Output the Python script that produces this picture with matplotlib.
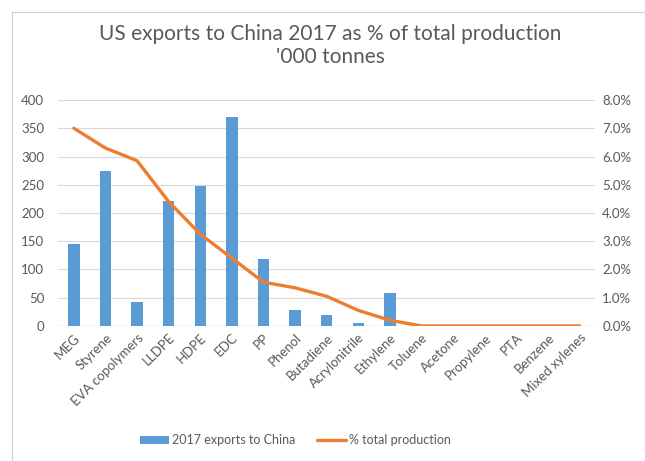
import matplotlib.pyplot as plt
from matplotlib.lines import Line2D
from matplotlib.ticker import FuncFormatter

# data
products = ["MEG", "Styrene", "EVA copolymers", "LLDPE", "HDPE", "EDC", "PP",
            "Phenol", "Butadiene", "Acrylonitrile", "Ethylene", "Toluene",
            "Acetone", "Propylene", "PTA", "Benzene", "Mixed xylenes"]
exports_kt = [145, 275, 42, 221, 247, 370, 118, 29, 20, 6, 58, 0, 0, 0, 0, 0, 0]
pct_production = [7.0, 6.3, 5.85, 4.4, 3.25, 2.4, 1.55, 1.35, 1.05, 0.55, 0.2,
                  0.0, 0.0, 0.0, 0.0, 0.0, 0.0]

BAR_COLOR = "#5B9BD5"
LINE_COLOR = "#ED7D31"
TEXT_COLOR = "#595959"
GRID_COLOR = "#D9D9D9"

plt.rcParams['font.family'] = ['Lato', 'DejaVu Sans']

fig = plt.figure(figsize=(6.45, 4.61), dpi=100)
ax = fig.add_axes([0.09, 0.293, 0.833, 0.49])
ax2 = ax.twinx()

x = list(range(len(products)))
bars = ax.bar(x, exports_kt, width=0.36, color=BAR_COLOR, zorder=2,
              label="2017 exports to China")
line, = ax2.plot(x, pct_production, color=LINE_COLOR, linewidth=2.4,
                 solid_joinstyle="round", solid_capstyle="round",
                 label="% total production")

ax.set_xlim(-0.5, len(products) - 0.5)
ax.set_ylim(0, 400)
ax.set_yticks(range(0, 401, 50))
ax2.set_ylim(0, 8)
ax2.set_yticks(range(0, 9))
ax2.yaxis.set_major_formatter(FuncFormatter(lambda v, _: f"{v:.1f}%"))

ax.grid(axis="y", color=GRID_COLOR, linewidth=0.8, zorder=0)
ax.set_axisbelow(True)

for a in (ax, ax2):
    for side in ("top", "left", "right", "bottom"):
        a.spines[side].set_visible(False)
    a.tick_params(axis="y", length=0, labelsize=9.5, labelcolor=TEXT_COLOR)
ax.axhline(0, color=GRID_COLOR, linewidth=1.0, zorder=1)
ax.tick_params(axis="y", pad=10)
ax2.tick_params(axis="y", pad=5)

ax.set_xticks(x)
ax.set_xticklabels(products, rotation=45, ha="right", rotation_mode="anchor",
                   fontsize=9.5, color=TEXT_COLOR)
ax.tick_params(axis="x", length=0, pad=4)

fig.suptitle("US exports to China 2017 as % of total production\n'000 tonnes",
             x=0.512, y=0.948, fontsize=15, color=TEXT_COLOR, linespacing=1.2)

fig.legend(handles=[bars, line], loc="center", bbox_to_anchor=(0.458, 0.045),
           ncol=2, frameon=False, fontsize=9, labelcolor=TEXT_COLOR,
           handlelength=2.3, columnspacing=1.8, handletextpad=0.2)

# faint sheet border around the chart
fig.add_artist(Line2D([0.019, 1.0], [0.974, 0.974], color="#D0D0D0", lw=0.8))
fig.add_artist(Line2D([0.019, 0.019], [0.0, 0.974], color="#D0D0D0", lw=0.8))

fig.savefig("out.png", dpi=100)
